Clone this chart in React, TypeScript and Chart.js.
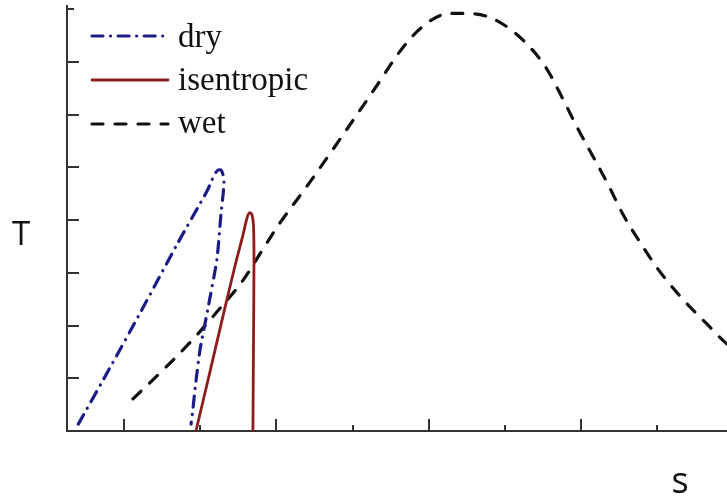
import React, { useEffect, useRef } from "react";
import { Chart, registerables } from "chart.js";

Chart.register(...registerables);

// Entropy (s) and temperature (T) samples for the three saturation curves
const dryS = [0.70, 0.91, 1.11, 1.35, 1.545, 1.577, 1.597, 1.617, 1.636, 1.650, 1.656, 1.650, 1.636, 1.61, 1.55, 1.50, 1.47, 1.45, 1.44];
const dryT = [0.13, 1.21, 2.26, 3.55, 4.55, 4.76, 4.88, 4.95, 4.95, 4.86, 4.72, 4.48, 4.10, 3.26, 2.31, 1.56, 0.89, 0.36, 0.13];

const isenS = [1.472, 1.564, 1.656, 1.735, 1.781, 1.801, 1.814, 1.827, 1.840, 1.850, 1.853, 1.850, 1.846];
const isenT = [0.0, 1.12, 2.26, 3.21, 3.72, 3.97, 4.10, 4.14, 4.10, 3.89, 3.24, 1.73, 0.0];

const wetS = [1.059, 1.282, 1.453, 1.610, 1.774, 1.912, 2.010, 2.220, 2.450, 2.680, 2.798, 2.955, 3.139, 3.303, 3.467, 3.644, 3.776, 3.881, 3.979, 4.077, 4.176, 4.274, 4.386, 4.504, 4.648, 4.825, 4.957, 5.05];
const wetT = [0.61, 1.23, 1.74, 2.26, 2.83, 3.45, 3.89, 4.72, 5.67, 6.64, 7.15, 7.66, 7.92, 7.91, 7.75, 7.34, 6.86, 6.29, 5.73, 5.21, 4.68, 4.11, 3.58, 3.07, 2.56, 2.03, 1.65, 1.48];

const seriesNames = ["dry", "isentropic", "wet"];

// Axis ranges and tick positions
const S_MIN = 0.626;
const S_MAX = 4.957;
const T_MIN = 0;
const T_MAX = 8.06;
const sMajorTicks = [1, 2, 3, 4];
const sMinorTicks = [1.5, 2.5, 3.5, 4.5];
const tTicks = [1, 2, 3, 4, 5, 6, 7, 8];

const AXIS_COLOR = "#333333";

const toPoints = (xs: number[], ys: number[]) => xs.map((x, i) => ({ x, y: ys[i] }));

// Inward-pointing tick marks on both axes
const inwardTicks = {
  id: "inwardTicks",
  afterDraw(chart: any) {
    const { ctx, chartArea, scales } = chart;
    const xs = scales.x;
    const ys = scales.y;
    ctx.save();
    ctx.strokeStyle = AXIS_COLOR;
    ctx.lineWidth = 2;
    ctx.lineCap = "butt";
    const drawX = (v: number, len: number) => {
      const px = Math.round(xs.getPixelForValue(v));
      ctx.beginPath();
      ctx.moveTo(px, chartArea.bottom);
      ctx.lineTo(px, chartArea.bottom - len);
      ctx.stroke();
    };
    sMajorTicks.forEach((v) => drawX(v, 12));
    sMinorTicks.forEach((v) => drawX(v, 6));
    tTicks.forEach((v) => {
      const py = Math.round(ys.getPixelForValue(v));
      const len = v === tTicks[tTicks.length - 1] ? 7 : 12;
      ctx.beginPath();
      ctx.moveTo(chartArea.left, py);
      ctx.lineTo(chartArea.left + len, py);
      ctx.stroke();
    });
    ctx.restore();
  },
};

// Legend drawn inside the plot area, top-left
const insideLegend = {
  id: "insideLegend",
  afterDraw(chart: any) {
    const { ctx } = chart;
    const lineX0 = 92;
    const lineX1 = 168;
    const textX = 178;
    const rows = [
      { lineY: 36, baseY: 47 },
      { lineY: 80, baseY: 90 },
      { lineY: 124, baseY: 133 },
    ];
    ctx.save();
    chart.data.datasets.forEach((ds: any, i: number) => {
      const r = rows[i];
      ctx.beginPath();
      ctx.strokeStyle = ds.borderColor;
      ctx.lineWidth = ds.borderWidth;
      ctx.lineCap = ds.borderCapStyle || "butt";
      ctx.setLineDash(ds.borderDash || []);
      ctx.moveTo(lineX0, r.lineY);
      ctx.lineTo(lineX1, r.lineY);
      ctx.stroke();
      ctx.setLineDash([]);
      ctx.fillStyle = "#111111";
      ctx.font = '33px "Liberation Serif", "Times New Roman", serif';
      ctx.textBaseline = "alphabetic";
      ctx.textAlign = "left";
      ctx.fillText(ds.label, textX, r.baseY);
    });
    ctx.restore();
  },
};

// Axis symbols T and s
const axisSymbols = {
  id: "axisSymbols",
  afterDraw(chart: any) {
    const { ctx } = chart;
    ctx.save();
    ctx.fillStyle = "#111111";
    ctx.textBaseline = "alphabetic";
    ctx.textAlign = "center";
    ctx.font = '33px "Open Sans", "Liberation Sans", sans-serif';
    ctx.fillText("T", 21, 245);
    ctx.font = '36px "Open Sans", "Liberation Sans", sans-serif';
    ctx.fillText("s", 680, 493);
    ctx.restore();
  },
};

export default function App() {
  const canvasRef = useRef<HTMLCanvasElement | null>(null);

  useEffect(() => {
    if (!canvasRef.current) return;
    const chart = new Chart(canvasRef.current, {
      type: "line",
      data: {
        datasets: [
          {
            label: seriesNames[0],
            data: toPoints(dryS, dryT),
            borderColor: "#1c1c86",
            borderWidth: 3.2,
            borderDash: [11, 7.5, 0.1, 7.5],
            borderCapStyle: "round",
            tension: 0.2,
            pointRadius: 0,
            fill: false,
          },
          {
            label: seriesNames[1],
            data: toPoints(isenS, isenT),
            borderColor: "#8e1c1c",
            borderWidth: 2.8,
            borderCapStyle: "round",
            tension: 0.2,
            pointRadius: 0,
            fill: false,
          },
          {
            label: seriesNames[2],
            data: toPoints(wetS, wetT),
            borderColor: "#111111",
            borderWidth: 3.2,
            borderDash: [11, 12],
            borderCapStyle: "round",
            cubicInterpolationMode: "monotone",
            pointRadius: 0,
            fill: false,
          },
        ],
      },
      options: {
        responsive: false,
        animation: false,
        layout: { padding: { left: 67, top: 6, right: 0, bottom: 66 } },
        plugins: {
          legend: { display: false },
          tooltip: { enabled: false },
        },
        scales: {
          x: {
            type: "linear",
            min: S_MIN,
            max: S_MAX,
            grid: { display: false, drawTicks: false },
            ticks: { display: false },
            border: { display: true, color: AXIS_COLOR, width: 2 },
          },
          y: {
            type: "linear",
            min: T_MIN,
            max: T_MAX,
            grid: { display: false, drawTicks: false },
            ticks: { display: false },
            border: { display: true, color: AXIS_COLOR, width: 2 },
          },
        },
      },
      plugins: [inwardTicks, insideLegend, axisSymbols],
    });
    return () => chart.destroy();
  }, []);

  return (
    <div style={{ position: "fixed", left: 0, top: 0, width: 727, height: 497, background: "#ffffff" }}>
      <canvas ref={canvasRef} width={727} height={497} style={{ display: "block" }} />
    </div>
  );
}
